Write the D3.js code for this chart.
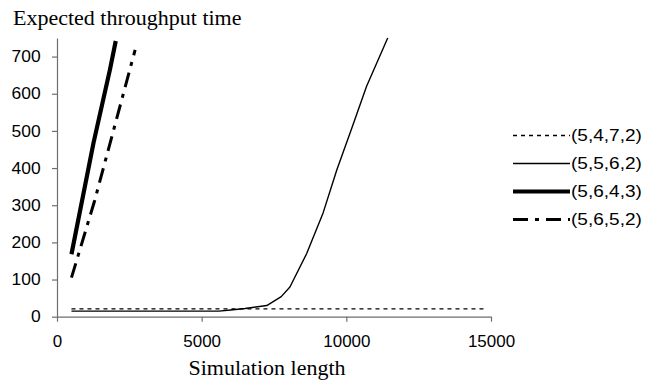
<!DOCTYPE html>
<html>
<head>
<meta charset="utf-8">
<script src="https://cdn.jsdelivr.net/npm/d3@7"></script>
<style>
  body { margin: 0; background: #fff; }
  svg { display: block; }
  .tick text { font-family: "Liberation Sans", Arial, sans-serif; font-size: 16px; fill: #000; }
  .serif { font-family: "Liberation Serif", "Times New Roman", serif; font-size: 22px; fill: #000; }
  .legend text { font-family: "Liberation Sans", Arial, sans-serif; font-size: 17px; fill: #000; }
</style>
</head>
<body>
<svg id="chart" width="657" height="380"></svg>
<script>
// series names shown in the legend
const seriesNames = ["(5,4,7,2)", "(5,5,6,2)", "(5,6,4,3)", "(5,6,5,2)"];

// [simulation length, expected throughput time]
const s5472 = [[500, 21], [14800, 21]];
const s5562 = [[500, 15], [2000, 15], [4000, 15], [5600, 15], [6000, 18], [6500, 22],
  [7250, 30], [7750, 54], [8050, 80], [8630, 170], [9200, 280], [9670, 395],
  [10200, 510], [10700, 620], [11430, 750]];
const s5643 = [[500, 168], [1260, 467], [1830, 665], [2030, 742]];
const s5652 = [[500, 105], [1300, 312], [2000, 515], [2700, 718]];

const xTicks = [0, 5000, 10000, 15000];
const yTicks = [0, 100, 200, 300, 400, 500, 600, 700];

const styles = [
  { width: 1.3, dash: "4,4" },
  { width: 1.4, dash: null },
  { width: 4.2, dash: null },
  { width: 3, dash: "15,7,4,7" }
];

const svg = d3.select("#chart");
const plot = { left: 57, right: 491, top: 38, bottom: 316.7 };

const x = d3.scaleLinear().domain([0, 15000]).range([plot.left, plot.right]);
const y = d3.scaleLinear().domain([0, 750]).range([plot.bottom, plot.top]);

// axes
const xAxis = svg.append("g")
  .attr("transform", `translate(0,${plot.bottom})`)
  .call(d3.axisBottom(x).tickValues(xTicks).tickSize(5).tickPadding(14).tickSizeOuter(0).tickFormat(d3.format("d")));
const yAxis = svg.append("g")
  .attr("transform", `translate(${plot.left},0)`)
  .call(d3.axisLeft(y).tickValues(yTicks).tickSize(5).tickPadding(10).tickSizeOuter(0));
[xAxis, yAxis].forEach(a => {
  a.selectAll("path, line").attr("stroke", "#6e6e6e").attr("stroke-width", 1.2);
});
// the original's digits are a touch wider than Arial
xAxis.selectAll(".tick text").attr("transform", "scale(1.06,1)");
yAxis.selectAll(".tick text").attr("transform", "scale(1.09,1)");

// lines
const line = d3.line().x(d => x(d[0])).y(d => y(d[1]));
const allSeries = [s5472, s5562, s5643, s5652];
allSeries.forEach((pts, i) => {
  svg.append("path")
    .datum(pts)
    .attr("d", line)
    .attr("fill", "none")
    .attr("stroke", "#000")
    .attr("stroke-width", styles[i].width)
    .attr("stroke-dasharray", styles[i].dash)
    .attr("stroke-linejoin", "round");
});

// titles
svg.append("text").attr("class", "serif").attr("x", 13).attr("y", 25).text("Expected throughput time");
svg.append("text").attr("class", "serif").attr("x", 267).attr("y", 375)
  .attr("text-anchor", "middle").text("Simulation length");

// legend
const legend = svg.append("g").attr("class", "legend");
const ly = d3.scalePoint().domain(seriesNames).range([135.5, 219.5]);
seriesNames.forEach((name, i) => {
  legend.append("line")
    .attr("x1", 513).attr("x2", 570)
    .attr("y1", ly(name)).attr("y2", ly(name))
    .attr("stroke", "#000")
    .attr("stroke-width", styles[i].width)
    .attr("stroke-dasharray", styles[i].dash);
  legend.append("text")
    .attr("transform", `translate(571,${ly(name)}) scale(1.12,1)`)
    .attr("dy", "0.35em")
    .text(name);
});
</script>
</body>
</html>
